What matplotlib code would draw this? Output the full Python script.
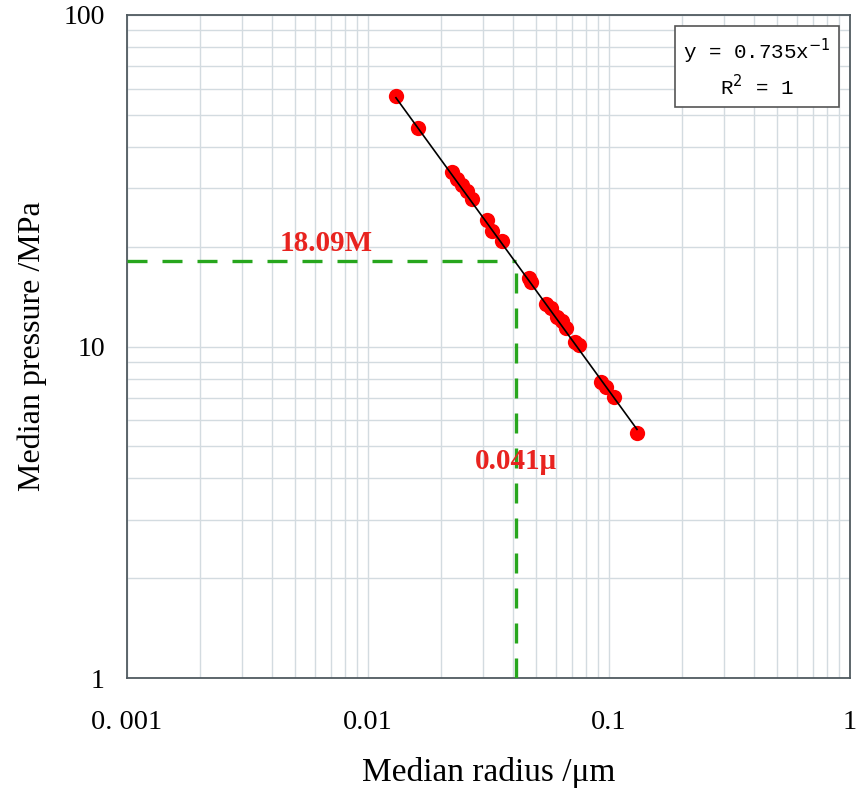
import numpy as np
import matplotlib
matplotlib.use("Agg")
import matplotlib.pyplot as plt
from matplotlib.ticker import LogLocator, FixedLocator, FixedFormatter, NullFormatter

# data
radius = [0.01306, 0.01612, 0.0223, 0.0234, 0.02455, 0.02575, 0.0270,
          0.0312, 0.0327, 0.0360, 0.0466, 0.0475,
          0.0548, 0.0574, 0.0608, 0.0638, 0.0663, 0.0723, 0.0751,
          0.0927, 0.0972, 0.1049, 0.1307]
pressure = [56.9, 45.6, 33.6, 31.9, 30.6, 29.4, 27.8,
            24.0, 22.3, 20.8, 16.05, 15.7,
            13.4, 13.1, 12.3, 11.9, 11.4, 10.35, 10.07,
            7.84, 7.57, 7.06, 5.50]
fit_coef = 0.735
median_r = 0.041
median_p = 18.09
xticks = [0.001, 0.01, 0.1, 1]
xticklabels = ["0. 001", "0.01", "0.1", "1"]
yticks = [1, 10, 100]
yticklabels = ["1", "10", "100"]

serif = ["Liberation Serif", "DejaVu Serif"]
fig = plt.figure(figsize=(8.58, 7.95), dpi=100)
ax = fig.add_axes([127/858, 1-678/795, (850-127)/858, (678-15)/795])
ax.set_xscale("log")
ax.set_yscale("log")
ax.set_xlim(0.001, 1)
ax.set_ylim(1, 100)

ax.xaxis.set_major_locator(FixedLocator(xticks))
ax.xaxis.set_major_formatter(FixedFormatter(xticklabels))
ax.yaxis.set_major_locator(FixedLocator(yticks))
ax.yaxis.set_major_formatter(FixedFormatter(yticklabels))
ax.xaxis.set_minor_locator(LogLocator(base=10, subs=np.arange(2, 10)))
ax.yaxis.set_minor_locator(LogLocator(base=10, subs=np.arange(2, 10)))
ax.xaxis.set_minor_formatter(NullFormatter())
ax.yaxis.set_minor_formatter(NullFormatter())
ax.grid(True, which="both", color="#d3dbe0", linewidth=1.0)
ax.set_axisbelow(True)
ax.tick_params(which="both", length=0)
ax.tick_params(axis="x", pad=23, labelsize=20.5)
ax.tick_params(axis="y", pad=16, labelsize=20)
for lab in ax.get_xticklabels() + ax.get_yticklabels():
    lab.set_family(serif)
for s in ax.spines.values():
    s.set_color("#505a60")
    s.set_linewidth(1.3)

# green dashed guide lines
ax.plot([0.001, median_r], [median_p, median_p], color="#27a61d", lw=2.4,
        dashes=(6, 4.5), zorder=3)
ax.plot([median_r, median_r], [1, median_p], color="#27a61d", lw=2.4,
        dashes=(6, 4.5), zorder=3)

# points and fit
ax.plot(radius, pressure, "o", color="#ff0000", markersize=11, mec="none", zorder=4)
xs = np.geomspace(min(radius), max(radius), 200)
ax.plot(xs, fit_coef / xs, color="black", lw=1.2, zorder=5)

ax.text(0.0067, median_p * 1.03, "18.09M", color="#e8231f", fontsize=21,
        fontweight="bold", family=serif, ha="center", va="bottom")
ax.text(median_r, 4.5, "0.041\u03bc", color="#e8231f", fontsize=21,
        fontweight="bold", family=serif, ha="center", va="center")

ax.set_xlabel("Median radius /\u03bcm", fontsize=24, family=serif, labelpad=16)
ax.set_ylabel("Median pressure /MPa", fontsize=23, family=serif, labelpad=12)

ax.text(0.871, 0.92, "y = 0.735x$^{-1}$\nR$^{2}$ = 1", transform=ax.transAxes,
        ha="center", va="center", fontsize=15, family="Liberation Mono",
        linespacing=1.35,
        bbox=dict(boxstyle="square,pad=0.4", fc="white", ec="#555555", lw=1.2),
        zorder=6)

fig.savefig("out.png", dpi=100)
